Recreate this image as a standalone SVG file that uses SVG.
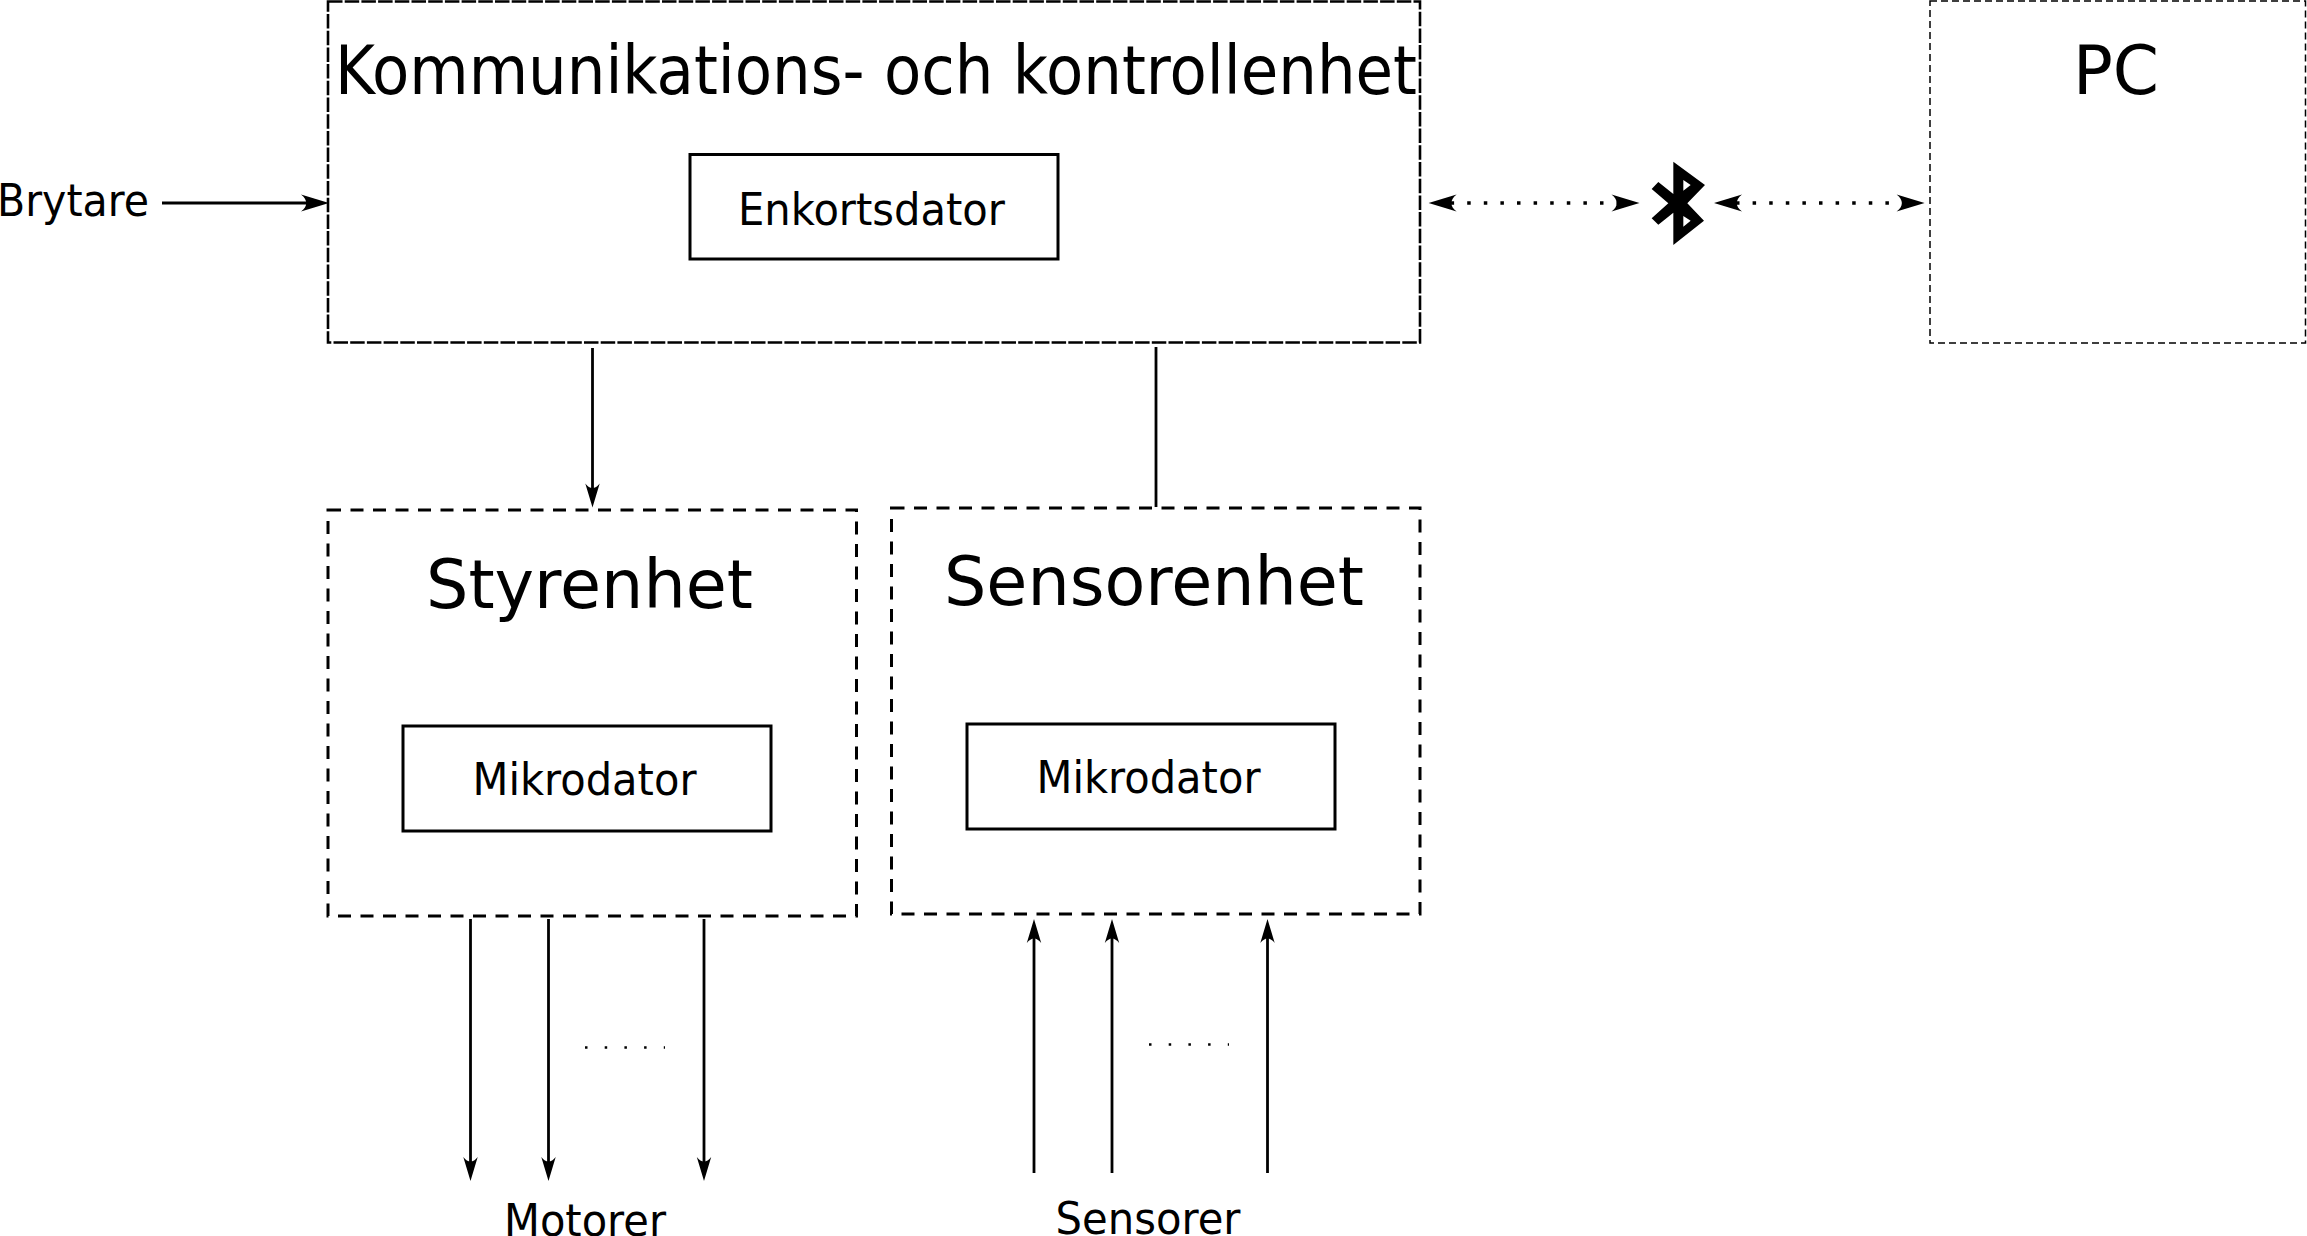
<svg xmlns="http://www.w3.org/2000/svg" width="2307" height="1236" viewBox="0 0 2307 1236">
<style>
text{font-family:"DejaVu Sans",sans-serif;fill:#000}
.t{font-size:67px}.m{font-size:44px}
.solid{fill:#fff;stroke:#000;stroke-width:3}
.comm{fill:none;stroke:#000;stroke-width:2.6;stroke-dasharray:14.5 2.2}
.unit{fill:none;stroke:#000;stroke-width:3;stroke-dasharray:13 9.5}
.pc{fill:none;stroke:#000;stroke-width:1.5;stroke-dasharray:7 4}
.ln{fill:none;stroke:#000;stroke-width:2.8}
.big{marker-end:url(#ab)}
.small{marker-end:url(#as)}
.dot{fill:none;stroke:#000;stroke-width:3.5;stroke-dasharray:3.5 13.1;marker-start:url(#ab);marker-end:url(#ab)}
.few{fill:none;stroke:#000;stroke-width:2.5;stroke-dasharray:2.5 17.2}
</style>
<defs>
<marker id="ab" markerUnits="userSpaceOnUse" markerWidth="40" markerHeight="24" viewBox="-34 -12 40 24" refX="-10" refY="0" orient="auto-start-reverse"><path d="M0,0L-28,-8.6C-21,-3-21,3-28,8.6Z" fill="#000"/></marker>
<marker id="as" markerUnits="userSpaceOnUse" markerWidth="30" markerHeight="20" viewBox="-26 -10 30 20" refX="-8" refY="0" orient="auto"><path d="M0,0L-24,-7.2C-18,-2.5-18,2.5-24,7.2Z" fill="#000"/></marker>
</defs>
<g id="connectors">
<line class="ln big" x1="162" y1="203" x2="319" y2="203"/>
<line class="ln small" x1="592.5" y1="348" x2="592.5" y2="499.5"/>
<line class="ln" x1="1156" y1="347" x2="1156" y2="507"/>
<line class="ln small" x1="470.5" y1="919" x2="470.5" y2="1173"/>
<line class="ln small" x1="548.5" y1="919" x2="548.5" y2="1173"/>
<line class="ln small" x1="704" y1="919" x2="704" y2="1173"/>
<line class="ln small" x1="1034" y1="1173" x2="1034" y2="927"/>
<line class="ln small" x1="1112" y1="1173" x2="1112" y2="927"/>
<line class="ln small" x1="1267.5" y1="1173" x2="1267.5" y2="927"/>
<line class="dot" x1="1438.6" y1="203" x2="1629.5" y2="203" stroke-dashoffset="-12"/>
<line class="dot" x1="1724" y1="203" x2="1914.6" y2="203" stroke-dashoffset="-12"/>
<line class="few" x1="585" y1="1047.5" x2="665" y2="1047.5"/>
<line class="few" x1="1149" y1="1044.5" x2="1229" y2="1044.5"/>
</g>
<g id="komm">
<rect class="comm" x="328" y="1.5" width="1092" height="341"/>
<text class="t" x="335" y="93.5" textLength="1082" lengthAdjust="spacingAndGlyphs">Kommunikations- och kontrollenhet</text>
</g>
<g id="enkortsdator">
<rect class="solid" x="690" y="154.5" width="368" height="104.5"/>
<text class="m" x="738" y="225" textLength="267" lengthAdjust="spacingAndGlyphs">Enkortsdator</text>
</g>
<g id="pc">
<rect class="pc" x="1930" y="1" width="375.5" height="342"/>
<text class="t" x="2073" y="94" textLength="86" lengthAdjust="spacingAndGlyphs">PC</text>
</g>
<g id="styrenhet">
<rect class="unit" x="328" y="510" width="528.5" height="406"/>
<text class="t" x="426" y="607.5" textLength="327" lengthAdjust="spacingAndGlyphs">Styrenhet</text>
</g>
<g id="mikrodator1">
<rect class="solid" x="403" y="726" width="368" height="105"/>
<text class="m" x="472.5" y="795" textLength="224" lengthAdjust="spacingAndGlyphs">Mikrodator</text>
</g>
<g id="sensorenhet">
<rect class="unit" x="891.5" y="508" width="528.5" height="406"/>
<text class="t" x="944" y="604.5" textLength="420" lengthAdjust="spacingAndGlyphs">Sensorenhet</text>
</g>
<g id="mikrodator2">
<rect class="solid" x="967" y="724" width="368" height="105"/>
<text class="m" x="1036.5" y="792.5" textLength="224" lengthAdjust="spacingAndGlyphs">Mikrodator</text>
</g>
<g id="brytare"><text class="m" x="-3" y="215.5" textLength="152" lengthAdjust="spacingAndGlyphs">Brytare</text></g>
<g id="motorer"><text class="m" x="504" y="1236" textLength="162" lengthAdjust="spacingAndGlyphs">Motorer</text></g>
<g id="sensorer"><text class="m" x="1055.5" y="1233.5" textLength="185" lengthAdjust="spacingAndGlyphs">Sensorer</text></g>
<g id="bluetooth"><path transform="translate(1600 120) scale(.3333)" fill="#000" fill-rule="evenodd" d="M220,125L315,195L262,250L312,302L220,375L220,278L175,314L155,295L205,250L155,207L175,186L220,222ZM250,180L272,195L250,212ZM250,288L272,302L250,320Z"/></g>
</svg>
